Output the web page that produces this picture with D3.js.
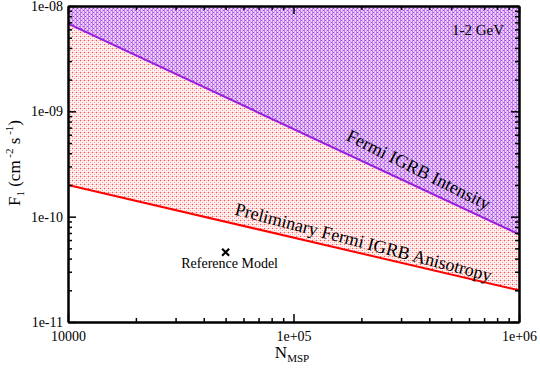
<!DOCTYPE html>
<html><head><meta charset="utf-8">
<script src="https://cdn.jsdelivr.net/npm/d3@7"></script>
<style>body{margin:0;background:#fff}svg{display:block}</style>
</head><body>
<svg id="c" width="540" height="369"></svg>
<script>
// ---- data ----
const nMsp = [1e4, 1e6];
const igrbIntensity = [6.8e-9, 6.8e-11];
const igrbAnisotropy = [2.0e-10, 2.0e-11];
const refModel = [{n: 5e4, f: 4.6e-11}];
const xMajor = [1e4, 1e5, 1e6];
const xMajorLabels = ["10000", "1e+05", "1e+06"];
const yMajor = [1e-11, 1e-10, 1e-9, 1e-8];
const yMajorLabels = ["1e-11", "1e-10", "1e-09", "1e-08"];
const yTop = 1e-8;

const L = 68, R = 519, T = 6, B = 322;
const svg = d3.select("#c");
const x = d3.scaleLog().domain([1e4, 1e6]).range([L, R]);
const y = d3.scaleLog().domain([1e-11, 1e-8]).range([B, T]);
const FONT = "Liberation Serif";

// minor ticks
const minors = (lo, hi) => {
  const out = [];
  for (let e = Math.log10(lo); e < Math.log10(hi); e++)
    for (let k = 2; k <= 9; k++) out.push(k * Math.pow(10, e));
  return out;
};
const xMinor = minors(1e4, 1e6), yMinor = minors(1e-11, 1e-8);

// patterns
const defs = svg.append("defs");
const pp = defs.append("pattern").attr("id", "pPurple").attr("patternUnits", "userSpaceOnUse").attr("width", 4).attr("height", 4);
pp.append("rect").attr("width", 4).attr("height", 4).attr("fill", "#ecd2fa");
pp.append("rect").attr("x", 0).attr("width", 1).attr("height", 4).attr("fill", "#bf7eea");
pp.append("rect").attr("x", 2).attr("width", 1).attr("height", 4).attr("fill", "#d7aaf3");
pp.append("rect").attr("x", 1).attr("y", 0).attr("width", 1).attr("height", 1).attr("fill", "#a24ae2");
pp.append("rect").attr("x", 3).attr("y", 2).attr("width", 1).attr("height", 1).attr("fill", "#a24ae2");

const rp = defs.append("pattern").attr("id", "pRed").attr("patternUnits", "userSpaceOnUse").attr("width", 4).attr("height", 4);
rp.append("rect").attr("width", 4).attr("height", 4).attr("fill", "#fff6f6");
rp.append("rect").attr("y", 0).attr("width", 4).attr("height", 1).attr("fill", "#ffd2d2");
rp.append("rect").attr("x", 0).attr("width", 1).attr("height", 4).attr("fill", "#ffdcdc");
rp.append("rect").attr("x", 0).attr("y", 0).attr("width", 1).attr("height", 1).attr("fill", "#ff5050");
rp.append("rect").attr("x", 2).attr("y", 2).attr("width", 1).attr("height", 1).attr("fill", "#ff8c8c");

// areas
const redPts = nMsp.map((n, i) => ({n, lo: igrbAnisotropy[i]}));
const purPts = nMsp.map((n, i) => ({n, lo: igrbIntensity[i]}));
const area = d3.area().x(d => x(d.n)).y0(d => y(d.lo)).y1(() => y(yTop));
svg.append("path").datum(redPts).attr("d", area).attr("fill", "url(#pRed)");
svg.append("path").datum(purPts).attr("d", area).attr("fill", "url(#pPurple)");

// lines
const line = d3.line().x(d => x(d.n)).y(d => y(d.lo));
svg.append("path").datum(purPts).attr("d", line).attr("fill", "none").attr("stroke", "#9a1ee0").attr("stroke-width", 2);
svg.append("path").datum(redPts).attr("d", line).attr("fill", "none").attr("stroke", "#ff0000").attr("stroke-width", 2);

// axes
function styleAxis(g) {
  g.attr("font-family", null).attr("font-size", null);
  g.selectAll("path.domain").attr("stroke", "#000").attr("stroke-width", 2);
  g.selectAll(".tick line").attr("stroke", "#000").attr("stroke-width", 1.5);
  g.selectAll("text").attr("font-family", FONT).style("font-family", FONT)
    .attr("font-size", 14).style("font-size", "14px").attr("fill", "#000");
}
const fmtX = v => xMajorLabels[xMajor.indexOf(v)];
const fmtY = v => yMajorLabels[yMajor.indexOf(v)];
svg.append("g").attr("transform", `translate(0,${B})`)
  .call(d3.axisBottom(x).tickValues(xMajor).tickFormat(fmtX).tickSize(-8).tickSizeOuter(0).tickPadding(9)).call(styleAxis);
svg.append("g").attr("transform", `translate(0,${B})`)
  .call(d3.axisBottom(x).tickValues(xMinor).tickFormat("").tickSize(-4).tickSizeOuter(0)).call(styleAxis);
svg.append("g").attr("transform", `translate(0,${T})`)
  .call(d3.axisTop(x).tickValues(xMajor).tickFormat("").tickSize(-8).tickSizeOuter(0)).call(styleAxis);
svg.append("g").attr("transform", `translate(0,${T})`)
  .call(d3.axisTop(x).tickValues(xMinor).tickFormat("").tickSize(-4).tickSizeOuter(0)).call(styleAxis);
svg.append("g").attr("transform", `translate(${L},0)`)
  .call(d3.axisLeft(y).tickValues(yMajor).tickFormat(fmtY).tickSize(-8).tickSizeOuter(0).tickPadding(5)).call(styleAxis);
svg.append("g").attr("transform", `translate(${L},0)`)
  .call(d3.axisLeft(y).tickValues(yMinor).tickFormat("").tickSize(-4).tickSizeOuter(0)).call(styleAxis);
svg.append("g").attr("transform", `translate(${R},0)`)
  .call(d3.axisRight(y).tickValues(yMajor).tickFormat("").tickSize(-8).tickSizeOuter(0)).call(styleAxis);
svg.append("g").attr("transform", `translate(${R},0)`)
  .call(d3.axisRight(y).tickValues(yMinor).tickFormat("").tickSize(-4).tickSizeOuter(0)).call(styleAxis);

// reference model marker
const mk = svg.append("g");
refModel.forEach(d => {
  const cx = x(d.n), cy = y(d.f), s = 3.5;
  mk.append("path").attr("d", `M${cx - s},${cy - s}L${cx + s},${cy + s}M${cx - s},${cy + s}L${cx + s},${cy - s}`)
    .attr("stroke", "#000").attr("stroke-width", 2.2);
  mk.append("text").attr("x", cx + 4).attr("y", cy + 16).attr("text-anchor", "middle")
    .attr("font-family", FONT).attr("font-size", 14).text("Reference Model");
});

// annotations
svg.append("text").attr("x", 504).attr("y", 35).attr("text-anchor", "end")
  .attr("font-family", FONT).attr("font-size", 15).text("1-2 GeV");

const ang1 = Math.atan2(y(igrbIntensity[1]) - y(igrbIntensity[0]), x(nMsp[1]) - x(nMsp[0])) * 180 / Math.PI + 1.5;
svg.append("text").attr("transform", `translate(416,175) rotate(${ang1})`).attr("text-anchor", "middle")
  .attr("font-family", FONT).attr("font-size", 18).text("Fermi IGRB Intensity");

const ang2 = Math.atan2(y(igrbAnisotropy[1]) - y(igrbAnisotropy[0]), x(nMsp[1]) - x(nMsp[0])) * 180 / Math.PI + 1.5;
svg.append("text").attr("transform", `translate(362,248) rotate(${ang2})`).attr("text-anchor", "middle")
  .attr("font-family", FONT).attr("font-size", 18).text("Preliminary Fermi IGRB Anisotropy");

// axis titles
const xt = svg.append("text").attr("x", 292).attr("y", 358).attr("text-anchor", "middle")
  .attr("font-family", FONT).attr("font-size", 17);
xt.append("tspan").text("N");
xt.append("tspan").attr("font-size", 11).attr("dy", 4).text("MSP");

const yt = svg.append("text").attr("transform", "translate(20,163) rotate(-90)").attr("text-anchor", "middle")
  .attr("font-family", FONT).attr("font-size", 17);
yt.append("tspan").text("F");
yt.append("tspan").attr("font-size", 11).attr("dy", 4).text("1");
yt.append("tspan").attr("dy", -4).text(" (cm");
yt.append("tspan").attr("font-size", 11).attr("dy", -7).text(" -2");
yt.append("tspan").attr("dy", 7).text(" s");
yt.append("tspan").attr("font-size", 11).attr("dy", -7).text(" -1");
yt.append("tspan").attr("dy", 7).text(")");
</script>
</body></html>
